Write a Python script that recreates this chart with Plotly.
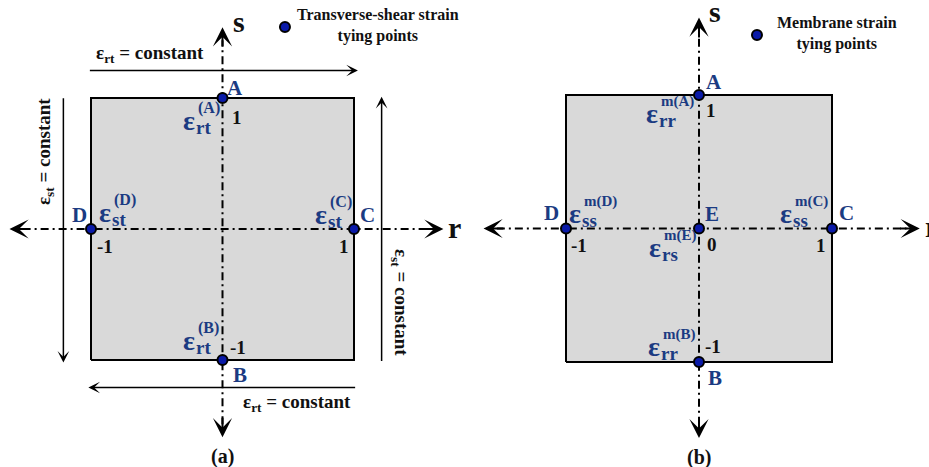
import plotly.graph_objects as go

# ---------------- data ----------------
square_r = [-1, 1, 1, -1, -1]
square_s = [-1, -1, 1, 1, -1]

pts_a_names = ["A", "B", "C", "D"]
pts_a_r = [0, 0, 1, -1]
pts_a_s = [1, -1, 0, 0]
pts_a_ticks = ["1", "-1", "1", "-1"]
strain_a_sub = ["rt", "rt", "st", "st"]
strain_a_sup = ["(A)", "(B)", "(C)", "(D)"]

pts_b_names = ["A", "B", "C", "D", "E"]
pts_b_r = [0, 0, 1, -1, 0]
pts_b_s = [1, -1, 0, 0, 0]
pts_b_ticks = ["1", "-1", "1", "-1", "0"]
strain_b_sub = ["rr", "rr", "ss", "ss", "rs"]
strain_b_sup = ["m(A)", "m(B)", "m(C)", "m(D)", "m(E)"]

axis_a_r = [-1.62, 1.68]
axis_a_s = [-1.59, 1.54]
axis_b_r = [-1.62, 1.66]
axis_b_s = [-1.57, 1.58]

const_offset = 1.21
const_extent = 1.02

legend_a_text = "Transverse-shear strain<br>tying points"
legend_b_text = "Membrane strain<br>tying points"
legend_a_pos = (0.475, 1.542)
legend_b_pos = (0.436, 1.449)
caption_a = "(a)"
caption_b = "(b)"

# ---------------- style ----------------
FONT = "Liberation Serif"
BLUE_TXT = "#1b3b82"
BLACK = "#111111"
W, H = 929, 467


def ranges(x0px, x1px, rm1, rp1, s1, sm1):
    ux = (rp1 - rm1) / 2.0
    xr = [-1 - (rm1 - x0px) / ux, -1 + (x1px - rm1) / ux]
    uy = (sm1 - s1) / 2.0
    yr = [1 - (H - s1) / uy, 1 + s1 / uy]
    return xr, yr


xr_a, yr_a = ranges(0, W / 2, 91, 354, 98, 360)
xr_b, yr_b = ranges(W / 2, W, 566, 832, 95, 362)

fig = go.Figure()
annotations = []


def ann(xref, yref, x, y, text, size, color, dx=0, dy=0,
        xanchor="center", yanchor="middle", angle=0):
    annotations.append(dict(
        xref=xref, yref=yref, x=x, y=y, text=text, showarrow=False,
        font=dict(family=FONT, size=size, color=color, weight="bold"),
        xanchor=xanchor, yanchor=yanchor, xshift=dx, yshift=-dy,
        textangle=angle, borderpad=0))


def arrow(xref, yref, x, y, ax, ay, width, size):
    annotations.append(dict(
        xref=xref, yref=yref, axref=xref, ayref=yref, x=x, y=y, ax=ax, ay=ay,
        text="", showarrow=True, arrowhead=3, arrowsize=size,
        arrowwidth=width, arrowcolor="black", standoff=0))


def axis_lines(xref, yref, ar, as_, xa, ya):
    head = 0.1
    fig.add_trace(go.Scatter(x=[ar[0] + head, ar[1] - head], y=[0, 0], mode="lines",
                             line=dict(color="black", width=2, dash="8px,4px,2px,4px"),
                             xaxis=xa, yaxis=ya, hoverinfo="skip", showlegend=False))
    fig.add_trace(go.Scatter(x=[0, 0], y=[as_[0] + head, as_[1] - head], mode="lines",
                             line=dict(color="black", width=2, dash="8px,4px,2px,4px"),
                             xaxis=xa, yaxis=ya, hoverinfo="skip", showlegend=False))
    arrow(xref, yref, ar[0], 0, ar[0] + 0.16, 0, 2, 1.6)
    arrow(xref, yref, ar[1], 0, ar[1] - 0.16, 0, 2, 1.6)
    arrow(xref, yref, 0, as_[0], 0, as_[0] + 0.16, 2, 1.6)
    arrow(xref, yref, 0, as_[1], 0, as_[1] - 0.16, 2, 1.6)
    ann(xref, yref, 0, as_[1], "s", 30, BLACK, dx=16, dy=-6)
    ann(xref, yref, ar[1], 0, "r", 30, BLACK, dx=4, dy=-2, xanchor="left")


def square(xa, ya):
    fig.add_trace(go.Scatter(x=square_r, y=square_s, mode="lines", fill="toself",
                             fillcolor="#d9d9d9", line=dict(color="black", width=2),
                             xaxis=xa, yaxis=ya, hoverinfo="skip", showlegend=False))


def points(xa, ya, r, s):
    fig.add_trace(go.Scatter(x=r, y=s, mode="markers",
                             marker=dict(size=10, color="#0a1aa8",
                                         line=dict(color="black", width=2)),
                             xaxis=xa, yaxis=ya, hoverinfo="skip", showlegend=False))


def strain(xref, yref, x, y, sub, sup, dx, dy, supsize=16):
    ann(xref, yref, x, y, "ε", 28, BLUE_TXT, dx=dx, dy=dy)
    ann(xref, yref, x, y, sub, 19, BLUE_TXT, dx=dx + 6, dy=dy + 7, xanchor="left")
    ann(xref, yref, x, y, sup, supsize, BLUE_TXT, dx=dx + 8, dy=dy - 12, xanchor="left")


# ---------------- panel (a) ----------------
square("x", "y")
axis_lines("x", "y", axis_a_r, axis_a_s, "x", "y")
points("x", "y", pts_a_r, pts_a_s)

letter_a_off = {"A": (12, -10), "B": (17, 15), "C": (13, -14), "D": (-12, -14)}
tick_a_off = {"A": (14, 19), "B": (15, -13), "C": (-10, 17), "D": (14, 17)}
strain_a_off = {"A": (-34, 22), "B": (-34, -20), "C": (-33, -15), "D": (14, -17)}
for i, n in enumerate(pts_a_names):
    r, s = pts_a_r[i], pts_a_s[i]
    ann("x", "y", r, s, n, 21, BLUE_TXT, *letter_a_off[n])
    ann("x", "y", r, s, pts_a_ticks[i], 19, BLACK, *tick_a_off[n])
    strain("x", "y", r, s, strain_a_sub[i], strain_a_sup[i], *strain_a_off[n])

arrow("x", "y", const_extent + 0.01, const_offset, -const_extent, const_offset, 1.5, 1.3)
arrow("x", "y", -const_extent, -const_offset, const_extent, -const_offset, 1.5, 1.3)
arrow("x", "y", -const_offset, -const_extent, -const_offset, const_extent - 0.01, 1.5, 1.3)
arrow("x", "y", const_offset, const_extent - 0.01, const_offset, -const_extent, 1.5, 1.3)
ann("x", "y", -0.97, 1.336, "ε<sub>rt</sub> = constant", 19, BLACK, xanchor="left")
ann("x", "y", 0.985, -1.33, "ε<sub>rt</sub> = constant", 19, BLACK, xanchor="right")
ann("x", "y", -1.35, 0.595, "ε<sub>st</sub> = constant", 19, BLACK, angle=-90)
ann("x", "y", 1.35, -0.557, "ε<sub>st</sub> = constant", 19, BLACK, angle=90)

fig.add_trace(go.Scatter(x=[legend_a_pos[0]], y=[legend_a_pos[1]], mode="markers",
                         marker=dict(size=10, color="#0a1aa8", line=dict(color="black", width=2)),
                         xaxis="x", yaxis="y", hoverinfo="skip", showlegend=False))
ann("x", "y", legend_a_pos[0], legend_a_pos[1], legend_a_text, 16, BLACK,
    dx=93, dy=-2)
ann("x", "y", 0, -1.74, caption_a, 20, BLACK)

# ---------------- panel (b) ----------------
square("x2", "y2")
axis_lines("x2", "y2", axis_b_r, axis_b_s, "x2", "y2")
points("x2", "y2", pts_b_r, pts_b_s)

letter_b_off = {"A": (15, -13), "B": (16, 16), "C": (14, -16), "D": (-15, -16), "E": (13, -15)}
tick_b_off = {"A": (12, 15), "B": (14, -16), "C": (-11, 17), "D": (13, 17), "E": (13, 16)}
strain_b_off = {"A": (-47, 18), "B": (-45, -16), "C": (-46, -15), "D": (9, -15), "E": (-44, 19)}
for i, n in enumerate(pts_b_names):
    r, s = pts_b_r[i], pts_b_s[i]
    ann("x2", "y2", r, s, n, 21, BLUE_TXT, *letter_b_off[n])
    ann("x2", "y2", r, s, pts_b_ticks[i], 19, BLACK, *tick_b_off[n])
    strain("x2", "y2", r, s, strain_b_sub[i], strain_b_sup[i], *strain_b_off[n], supsize=15)

fig.add_trace(go.Scatter(x=[legend_b_pos[0]], y=[legend_b_pos[1]], mode="markers",
                         marker=dict(size=10, color="#0a1aa8", line=dict(color="black", width=2)),
                         xaxis="x2", yaxis="y2", hoverinfo="skip", showlegend=False))
ann("x2", "y2", legend_b_pos[0], legend_b_pos[1], legend_b_text, 16, BLACK,
    dx=80, dy=-2)
ann("x2", "y2", 0, -1.712, caption_b, 20, BLACK)

# ---------------- layout ----------------
hidden = dict(visible=False, showgrid=False, zeroline=False, fixedrange=True)
fig.update_layout(
    width=W, height=H,
    margin=dict(l=0, r=0, t=0, b=0),
    paper_bgcolor="white", plot_bgcolor="white",
    showlegend=False,
    xaxis=dict(domain=[0, 0.5], range=xr_a, **hidden),
    yaxis=dict(domain=[0, 1], range=yr_a, **hidden),
    xaxis2=dict(domain=[0.5, 1], range=xr_b, **hidden),
    yaxis2=dict(domain=[0, 1], range=yr_b, anchor="x2", **hidden),
    annotations=annotations,
)
fig.write_html(
    "out.html",
    config={"displayModeBar": False},
    post_script="document.body.style.margin='0';document.body.style.overflow='hidden';",
)
